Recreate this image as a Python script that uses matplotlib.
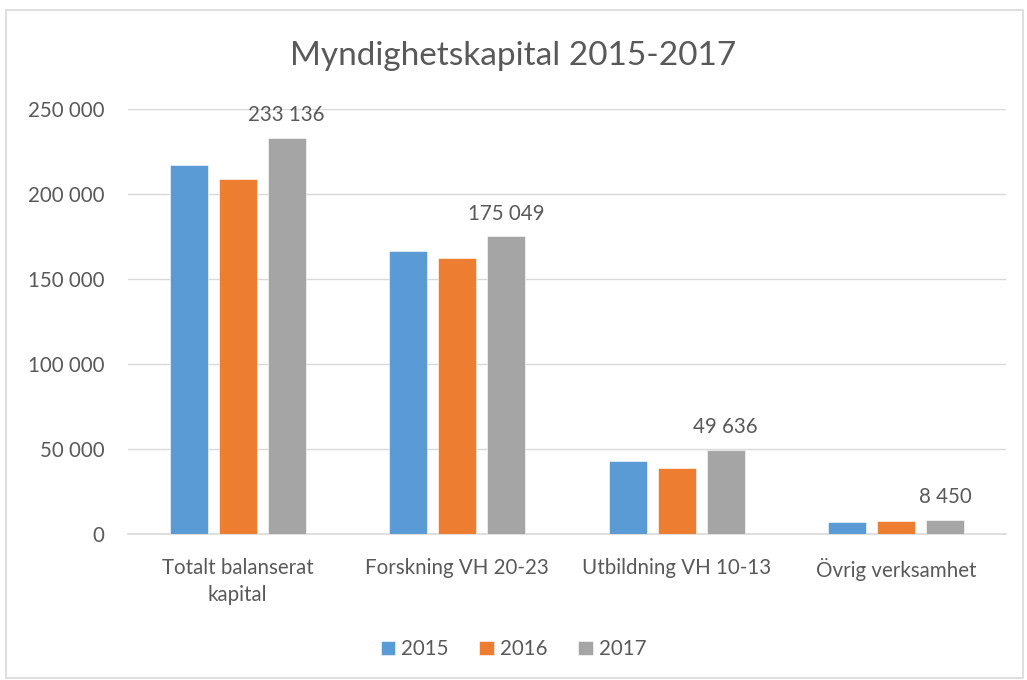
import matplotlib
matplotlib.use("Agg")
import matplotlib.pyplot as plt
import numpy as np
from matplotlib.patches import Rectangle
from matplotlib.ticker import FuncFormatter

categories = ["Totalt balanserat\nkapital", "Forskning VH 20-23",
              "Utbildning VH 10-13", "Övrig verksamhet"]
years = ["2015", "2016", "2017"]
v2015 = [217000, 166500, 43000, 7300]
v2016 = [209000, 162300, 39000, 7900]
v2017 = [233136, 175049, 49636, 8450]
yticks = [0, 50000, 100000, 150000, 200000, 250000]

colors = ["#5B9BD5", "#ED7D31", "#A5A5A5"]
TXT = "#595959"
FS = 14.8

plt.rcParams["font.family"] = ["Lato", "DejaVu Sans"]


def fmt(v, _=None):
    return f"{int(v):,}".replace(",", " ")


fig = plt.figure(figsize=(10.27, 6.8), dpi=100)
fig.patches.append(Rectangle((0.006, 0.003), 0.99, 0.982, transform=fig.transFigure,
                             fill=False, edgecolor="#D9D9D9", lw=1.2))
ax = fig.add_axes([0.1246, 0.2147, 0.855, 0.625])

x = np.arange(len(categories))
w = 0.173
gap = 0.05
for i, (vals, yr) in enumerate(zip([v2015, v2016, v2017], years)):
    pos = x + (i - 1) * (w + gap)
    ax.bar(pos, vals, width=w, color=colors[i], label=yr, zorder=3,
           edgecolor="white", linewidth=0.4)
    if yr == "2017":
        for px, v in zip(pos, vals):
            ax.annotate(fmt(v), (px, v), xytext=(0, 9), textcoords="offset points",
                        ha="center", va="bottom", fontsize=FS, color=TXT)

ax.set_xlim(-0.5, len(categories) - 0.5)
ax.set_ylim(0, 250000)
ax.set_yticks(yticks)
ax.yaxis.set_major_formatter(FuncFormatter(fmt))
ax.set_xticks(x)
ax.set_xticklabels(categories, linespacing=1.45)
ax.tick_params(axis="both", length=0, labelsize=FS, labelcolor=TXT)
ax.tick_params(axis="x", pad=17)
ax.tick_params(axis="y", pad=17)
ax.grid(axis="y", color="#D9D9D9", lw=1, zorder=0)
for s in ["top", "right", "left"]:
    ax.spines[s].set_visible(False)
ax.spines["bottom"].set_color("#D9D9D9")
ax.spines["bottom"].set_linewidth(1.2)

fig.suptitle("Myndighetskapital 2015-2017", y=0.94, fontsize=24, color=TXT)
fig.legend(loc="lower center", bbox_to_anchor=(0.5, 0.003), ncol=3, frameon=False,
           fontsize=FS, handlelength=0.7, handleheight=0.7, handletextpad=0.3,
           columnspacing=1.5, labelcolor=TXT)

fig.savefig("out.png", dpi=100)
